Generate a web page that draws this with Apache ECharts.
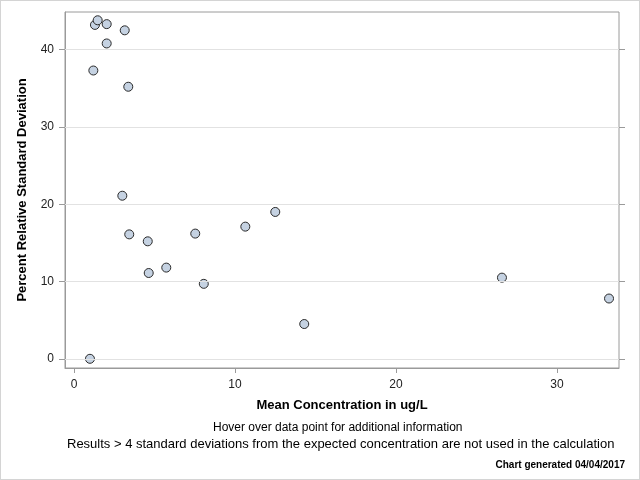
<!DOCTYPE html>
<html>
<head>
<meta charset="utf-8">
<script src="https://cdn.jsdelivr.net/npm/echarts@6/dist/echarts.min.js"></script>
<style>
html, body { margin: 0; padding: 0; background: #fff; }
#chart { width: 638px; height: 478px; border: 1px solid #d4d4d4; }
</style>
</head>
<body>
<div id="chart"></div>
<script>
// mean concentration (ug/L) and percent RSD
var meanConc = [0.99, 1.20, 1.30, 1.47, 2.03, 2.03, 3.15, 3.37, 3.00, 3.43, 4.58, 4.64, 5.73, 7.53, 8.06, 10.64, 12.50, 14.30, 26.58, 33.23];
var pctRsd = [0.0, 37.3, 43.2, 43.8, 43.3, 40.8, 42.5, 35.2, 21.1, 16.1, 15.2, 11.1, 11.8, 16.2, 9.7, 17.1, 19.0, 4.5, 10.5, 7.8];
var xTicks = [0, 10, 20, 30];
var yTicks = [0, 10, 20, 30, 40];

var pts = [];
for (var i = 0; i < meanConc.length; i++) {
	pts.push([meanConc[i], pctRsd[i]]);
}

var font = "Liberation Sans";
var chart = echarts.init(document.getElementById("chart"));
chart.setOption({
	animation: false,
	textStyle: { fontFamily: font },
	title: [{
		text: "Hover over data point for additional information",
		left: 212, top: 421, padding: 0,
		textStyle: { fontSize: 12, fontWeight: "normal", color: "#000", fontFamily: font }
	}, {
		text: "Results > 4 standard deviations from the expected concentration are not used in the calculation",
		left: 66, top: 437, padding: 0,
		textStyle: { fontSize: 13, fontWeight: "normal", color: "#000", fontFamily: font }
	}, {
		text: "Chart generated 04/04/2017",
		right: 14, top: 459, padding: 0,
		textStyle: { fontSize: 10, fontWeight: "bold", color: "#000", fontFamily: font }
	}],
	grid: {
		left: 64, top: 11, right: 20, bottom: 111,
		show: true, borderColor: "#9a9a9a", borderWidth: 1
	},
	xAxis: {
		type: "value",
		min: -0.56, max: 33.85,
		name: "Mean Concentration in ug/L",
		nameLocation: "middle", nameGap: 31,
		nameTextStyle: { fontSize: 13, fontWeight: "bold", color: "#000" },
		axisLine: { show: true, onZero: false, lineStyle: { color: "#9a9a9a" } },
		axisTick: { show: true, length: 5, customValues: xTicks, lineStyle: { color: "#9a9a9a" } },
		axisLabel: { customValues: xTicks, fontSize: 12, color: "#222", margin: 11 },
		splitLine: { show: false }
	},
	yAxis: [{
		type: "value",
		min: -1.19, max: 44.87,
		name: "Percent Relative Standard Deviation",
		nameLocation: "middle", nameGap: 36,
		nameTextStyle: { fontSize: 13, fontWeight: "bold", color: "#000" },
		axisLine: { show: true, onZero: false, lineStyle: { color: "#9a9a9a" } },
		axisTick: { show: true, length: 6, customValues: yTicks, lineStyle: { color: "#9a9a9a" } },
		axisLabel: { customValues: yTicks, fontSize: 12, color: "#222", margin: 11 },
		splitLine: { show: false }
	}, {
		type: "value",
		position: "right",
		min: -1.19, max: 44.87,
		axisLine: { show: false, onZero: false },
		axisTick: { show: true, length: 6, customValues: yTicks, lineStyle: { color: "#9a9a9a" } },
		axisLabel: { show: false },
		splitLine: { show: false }
	}],
	series: [{
		type: "scatter",
		data: pts,
		symbol: "circle",
		symbolSize: 9,
		itemStyle: { color: "#c5d2e2", borderColor: "#2a2a2a", borderWidth: 1, opacity: 1 },
		markLine: {
			silent: true,
			symbol: "none",
			label: { show: false },
			lineStyle: { color: "#e2e2e2", type: "solid", width: 1 },
			data: yTicks.map(function(v) { return { yAxis: v }; })
		},
		z: 3
	}]
});
</script>
</body>
</html>
